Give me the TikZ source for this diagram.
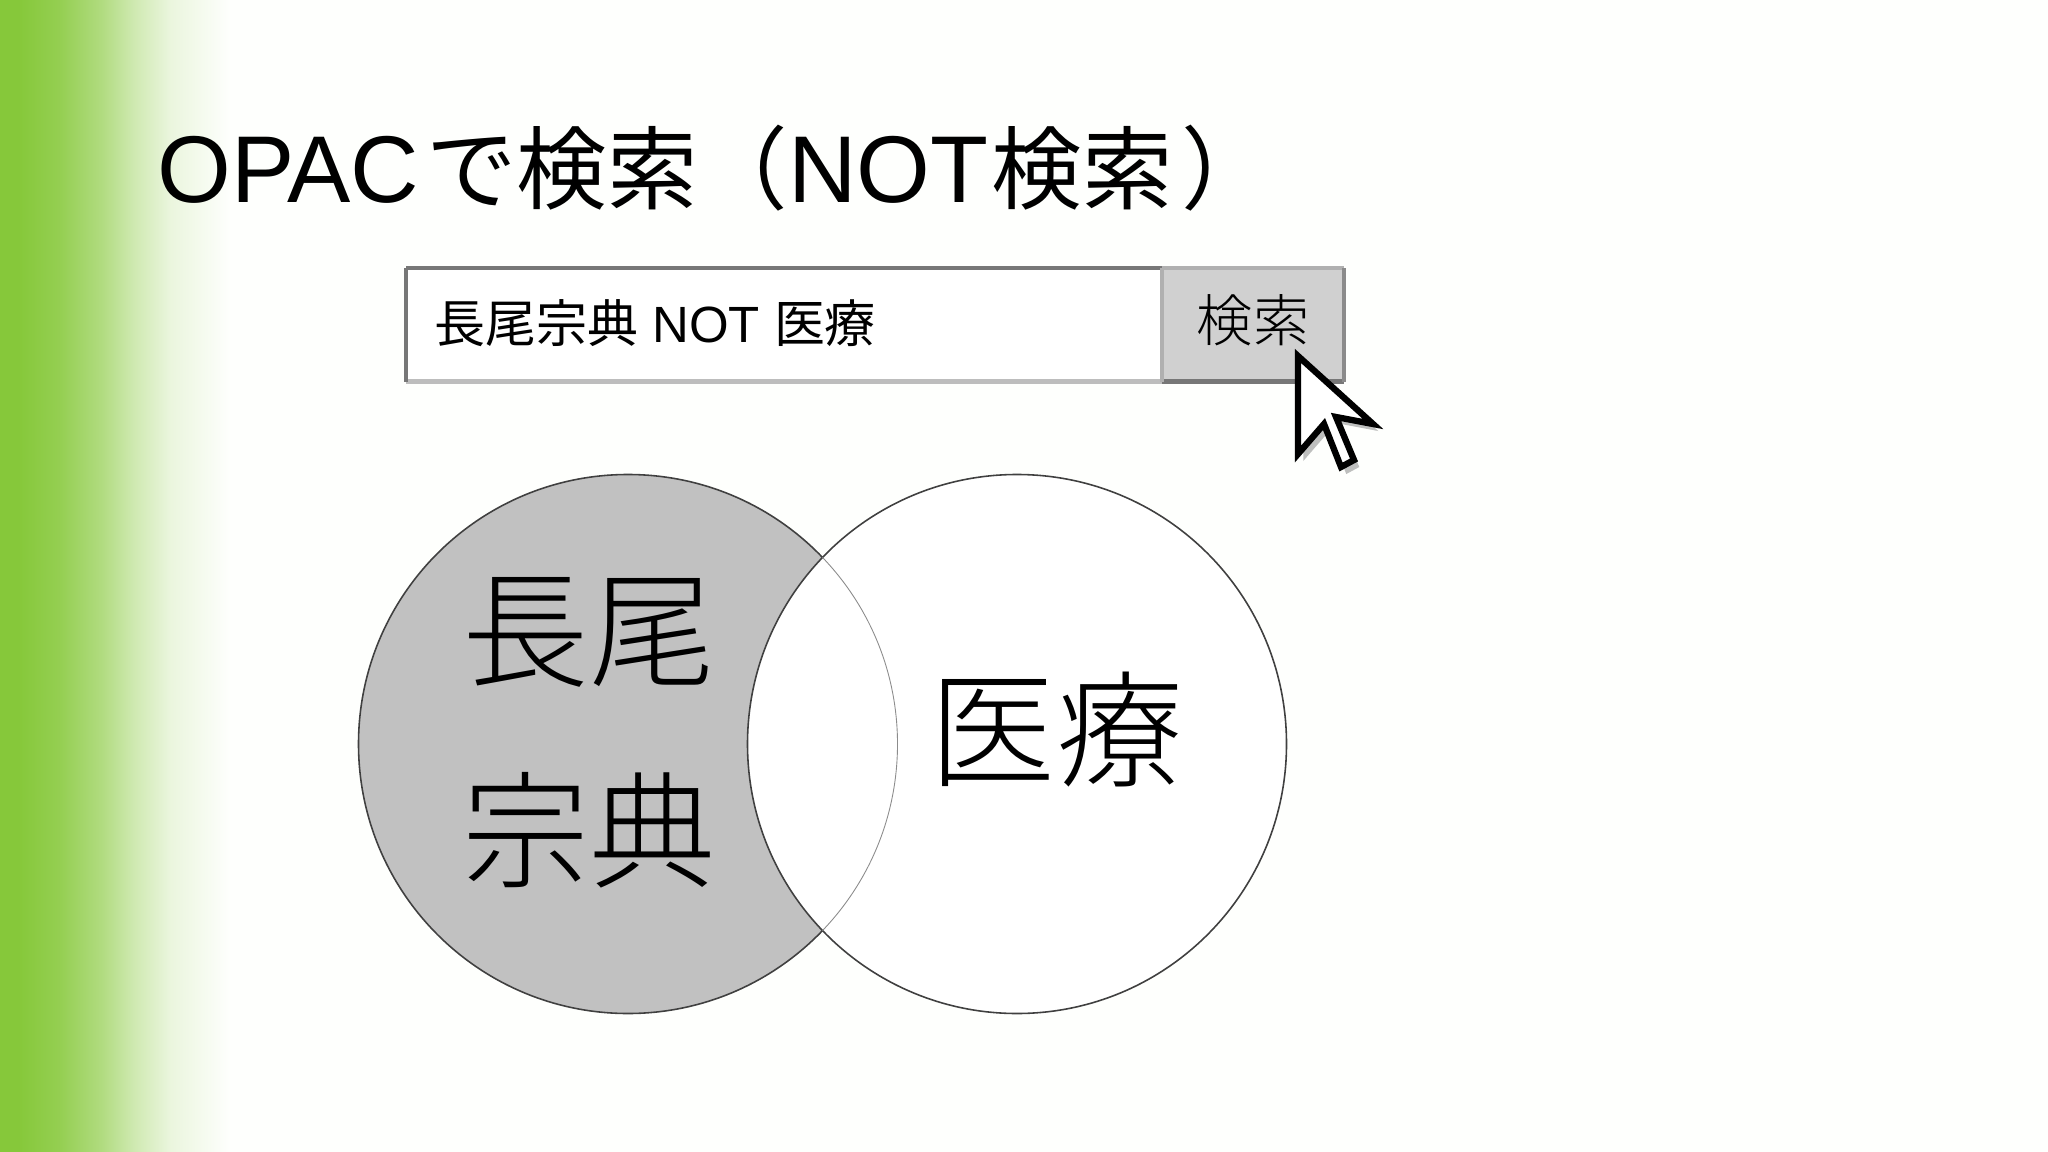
\documentclass[tikz,border=0pt]{standalone}
\usepackage{fontspec}
\usetikzlibrary{shadows}
\setmainfont{Liberation Sans}
\newfontfamily\cjk{Noto Sans CJK JP}
\newfontfamily\cjklight{Noto Sans CJK JP Light}
\definecolor{barGreen}{HTML}{86C83A}
\definecolor{pageWhite}{HTML}{FEFFFD}
\definecolor{setGray}{HTML}{C1C1C1}
\definecolor{buttonGray}{HTML}{D0D0D0}
\definecolor{edgeDark}{HTML}{777777}
\definecolor{edgeMid}{HTML}{B0B0B0}
\definecolor{edgeLight}{HTML}{BDBDBD}
\pgfdeclarehorizontalshading{sidebar}{100bp}{
	color(0bp)=(barGreen); color(29bp)=(barGreen);
	color(38bp)=(barGreen!88!white); color(47bp)=(barGreen!65!white);
	color(54bp)=(barGreen!40!white); color(62bp)=(barGreen!17!white);
	color(75bp)=(pageWhite); color(100bp)=(pageWhite)}
\tikzset{
	setcircle/.style={circle, draw=black!75, line width=0.9pt, minimum size=539*0.02cm, inner sep=0},
	setlabel/.style={font=\cjklight\fontsize{72pt}{72pt}\selectfont},
	boxedge/.style={line width=2.6pt}
}
\begin{document}
\begin{tikzpicture}[x=0.02cm, y=-0.02cm]
	\useasboundingbox (0, 0) rectangle (2048, 1152);
	\fill[pageWhite] (0, 0) rectangle (2048, 1152);
	\shade[shading=sidebar] (0, 0) rectangle (230, 1152);

	\node[anchor=base west, inner sep=0, font=\fontsize{54pt}{54pt}\selectfont] (title) at (157, 203) {OPAC\hspace{4pt}{\cjk\fontsize{51.5pt}{54pt}\selectfont で検索（}NOT\hspace{2pt}{\cjk\fontsize{51.5pt}{54pt}\selectfont 検索\hspace{5pt}）}};

	% search box
	\node[anchor=north west, minimum width=756*0.02cm, minimum height=113*0.02cm, inner sep=0, fill=white] (field) at (406, 268) {};
	\node[anchor=north west, minimum width=181*0.02cm, minimum height=113*0.02cm, inner sep=0, fill=buttonGray] (button) at (1162, 268) {};
	\draw[boxedge, edgeLight] (field.south west) -- (field.south east);
	\draw[boxedge, edgeDark] (field.north west) -- (field.north east);
	\draw[line width=2.2pt, edgeDark] (field.north west) -- (field.south west);
	\draw[boxedge, edgeDark] (button.south west) -- (button.south east);
	\draw[boxedge, edgeMid] (button.north west) -- (button.north east);
	\draw[boxedge, edgeMid] (button.north west) -- (button.south west);
	\draw[line width=2.2pt, edgeDark!85!white] (button.north east) -- (button.south east);

	\node[anchor=west, inner sep=0, font=\fontsize{29pt}{29pt}\selectfont] (query) at (434, 323) {{\cjk 長尾宗典} NOT {\cjk 医療}};
	\node[inner sep=0, font=\cjklight\fontsize{32pt}{32pt}\selectfont] (buttontext) at (1253, 320) {検索};

	% venn
	\node[setcircle, fill=setGray] (nagao) at (628, 744) {};
	\node[setcircle, fill=white] (iryo) at (1017, 744) {};
	\begin{scope}
		\clip (iryo.center) circle [radius=269.5*0.02cm];
		\draw[line width=0.5pt, black!45] (nagao.center) circle [radius=269.5*0.02cm];
	\end{scope}

	\node[setlabel] (nagaotop) at (589, 632) {長尾};
	\node[setlabel] (nagaobottom) at (589, 830) {宗典};
	\node[setlabel] (iryotext) at (1056, 730) {医療};

	% cursor
	\draw[fill=white, draw=black, line width=3.6pt, miter limit=10, drop shadow={shadow xshift=3pt, shadow yshift=-4pt, opacity=0.5}]
		(1298, 356) -- (1298, 454) -- (1324, 424) -- (1341, 467) -- (1354, 460) -- (1336, 417) -- (1373, 424) -- cycle;
\end{tikzpicture}
\end{document}
